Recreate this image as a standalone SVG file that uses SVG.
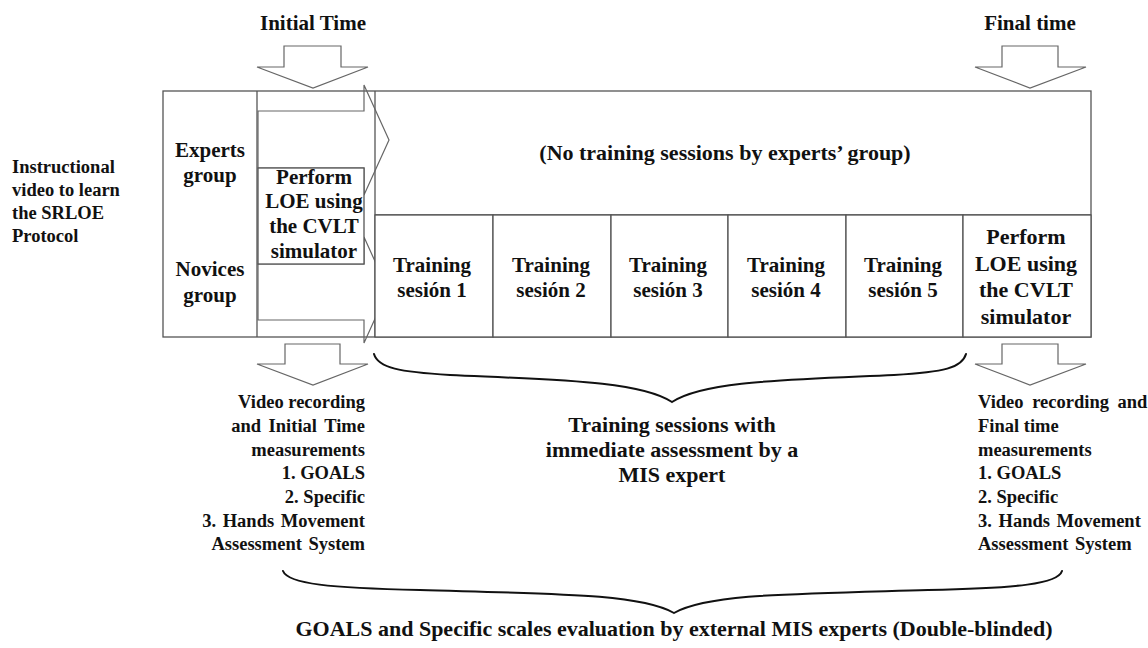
<svg xmlns="http://www.w3.org/2000/svg" width="1148" height="648" viewBox="0 0 1148 648">
  <style>
    text { font-family: "Liberation Serif", "Times New Roman", serif; font-weight: bold; fill: #111; }
    .t18 { font-size: 18.5px; }
    .t21 { font-size: 21px; }
    .t22 { font-size: 22px; }
    .mid { text-anchor: middle; }
    .end { text-anchor: end; }
    .frame { fill: none; stroke: #555; stroke-width: 1.3; }
    .cell { fill: #fff; stroke: #555; stroke-width: 1.3; }
    .arrow { fill: none; stroke: #666; stroke-width: 1.2; stroke-linejoin: miter; }
    .brace { fill: none; stroke: #111; stroke-width: 2; stroke-linecap: round; }
  </style>

  <rect width="1148" height="648" fill="#fff"/>

  <!-- time labels -->
  <g id="label-initial">
    <text class="t21 mid" x="313" y="30">Initial Time</text>
  </g>
  <g id="label-final">
    <text class="t21 mid" x="1030" y="30">Final time</text>
  </g>

  <!-- instructional video note -->
  <g id="instructional-video">
    <text class="t18" x="12" y="173">Instructional</text>
    <text class="t18" x="12" y="196">video to learn</text>
    <text class="t18" x="12" y="219">the SRLOE</text>
    <text class="t18" x="12" y="242">Protocol</text>
  </g>

  <!-- main timeline table -->
  <g id="timeline-table">
    <rect class="frame" x="163" y="91" width="928" height="246"/>
    <line class="frame" x1="257" y1="91" x2="257" y2="337"/>
    <line class="frame" x1="375" y1="91" x2="375" y2="337"/>
    <line class="frame" x1="375" y1="215" x2="1091" y2="215"/>
  </g>

  <g id="group-labels">
    <text class="t21 mid" x="210" y="157">Experts</text>
    <text class="t21 mid" x="210" y="182">group</text>
    <text class="t21 mid" x="210" y="276">Novices</text>
    <text class="t21 mid" x="210" y="302">group</text>
  </g>

  <g id="no-training">
    <text class="t22 mid" x="725" y="160">(No training sessions by experts’ group)</text>
  </g>

  <!-- connectors: block arrows and braces -->
  <g id="connectors">
    <!-- down arrows above the table -->
    <polygon class="arrow" points="284,46 341,46 341,67 368,67 313,88 257,67 284,67"/>
    <polygon class="arrow" points="1002,46 1058,46 1058,67 1086,67 1030,88 975,67 1002,67"/>
    <!-- right arrows for the two groups -->
    <polygon class="arrow" points="258,111 364,111 364,85 389,140 364,195 364,168 258,168"/>
    <polygon class="arrow" points="258,264 364,264 364,237 388,290 364,343 364,320 258,320"/>
    <!-- down arrows below the table -->
    <polygon class="arrow" points="285,344 340,344 340,364 368,364 313,385 257,364 285,364"/>
    <polygon class="arrow" points="1002,344 1058,344 1058,364 1086,364 1030,385 975,364 1002,364"/>
    <!-- braces -->
    <path class="brace" d="M374,354 C378,368 400,372 450,375 C560,380 640,381 672,402 C704,381 784,380 894,375 C944,372 962,368 966,354"/>
    <path class="brace" d="M283,571 C288,584 330,588 420,590 C560,594 640,594 674,613 C708,594 788,594 928,590 C1018,588 1058,584 1062,571"/>
  </g>

  <!-- initial assessment -->
  <g id="initial-perform">
    <rect class="cell" x="258" y="168" width="106" height="96"/>
    <text class="t21 mid" x="314" y="184">Perform</text>
    <text class="t21 mid" x="314" y="208">LOE using</text>
    <text class="t21 mid" x="314" y="233">the CVLT</text>
    <text class="t21 mid" x="314" y="258">simulator</text>
  </g>

  <!-- training sessions -->
  <g id="session-1">
    <rect class="cell" x="375" y="215" width="118" height="122"/>
    <text class="t21 mid" x="432" y="272">Training</text>
    <text class="t21 mid" x="432" y="297">sesión 1</text>
  </g>
  <g id="session-2">
    <rect class="cell" x="493" y="215" width="118" height="122"/>
    <text class="t21 mid" x="551" y="272">Training</text>
    <text class="t21 mid" x="551" y="297">sesión 2</text>
  </g>
  <g id="session-3">
    <rect class="cell" x="611" y="215" width="117" height="122"/>
    <text class="t21 mid" x="668" y="272">Training</text>
    <text class="t21 mid" x="668" y="297">sesión 3</text>
  </g>
  <g id="session-4">
    <rect class="cell" x="728" y="215" width="118" height="122"/>
    <text class="t21 mid" x="786" y="272">Training</text>
    <text class="t21 mid" x="786" y="297">sesión 4</text>
  </g>
  <g id="session-5">
    <rect class="cell" x="846" y="215" width="117" height="122"/>
    <text class="t21 mid" x="903" y="272">Training</text>
    <text class="t21 mid" x="903" y="297">sesión 5</text>
  </g>

  <!-- final assessment -->
  <g id="final-perform">
    <rect class="cell" x="963" y="215" width="128" height="122"/>
    <text class="t22 mid" x="1026" y="244">Perform</text>
    <text class="t22 mid" x="1026" y="271">LOE using</text>
    <text class="t22 mid" x="1026" y="297">the CVLT</text>
    <text class="t22 mid" x="1026" y="324">simulator</text>
  </g>

  <!-- measurement notes -->
  <g id="initial-measurements">
    <text class="t18 end" x="365" y="408">Video recording</text>
    <text class="t18 end" x="365" y="432" word-spacing="3">and Initial Time</text>
    <text class="t18 end" x="365" y="456">measurements</text>
    <text class="t18 end" x="365" y="479">1. GOALS</text>
    <text class="t18 end" x="365" y="503">2. Specific</text>
    <text class="t18 end" x="365" y="527" word-spacing="2">3. Hands Movement</text>
    <text class="t18 end" x="365" y="550" word-spacing="2">Assessment System</text>
  </g>

  <g id="training-assessment">
    <text class="t22 mid" x="672" y="432">Training sessions with</text>
    <text class="t22 mid" x="672" y="457">immediate assessment by a</text>
    <text class="t22 mid" x="672" y="482">MIS expert</text>
  </g>

  <g id="final-measurements">
    <text class="t18" x="978" y="408" word-spacing="4">Video recording and</text>
    <text class="t18" x="978" y="432">Final time</text>
    <text class="t18" x="978" y="456">measurements</text>
    <text class="t18" x="978" y="479">1. GOALS</text>
    <text class="t18" x="978" y="503">2. Specific</text>
    <text class="t18" x="978" y="527" word-spacing="2">3. Hands Movement</text>
    <text class="t18" x="978" y="550" word-spacing="2">Assessment System</text>
  </g>

  <g id="external-evaluation">
    <text class="t22 mid" x="674" y="636">GOALS and Specific scales evaluation by external MIS experts (Double-blinded)</text>
  </g>
</svg>
